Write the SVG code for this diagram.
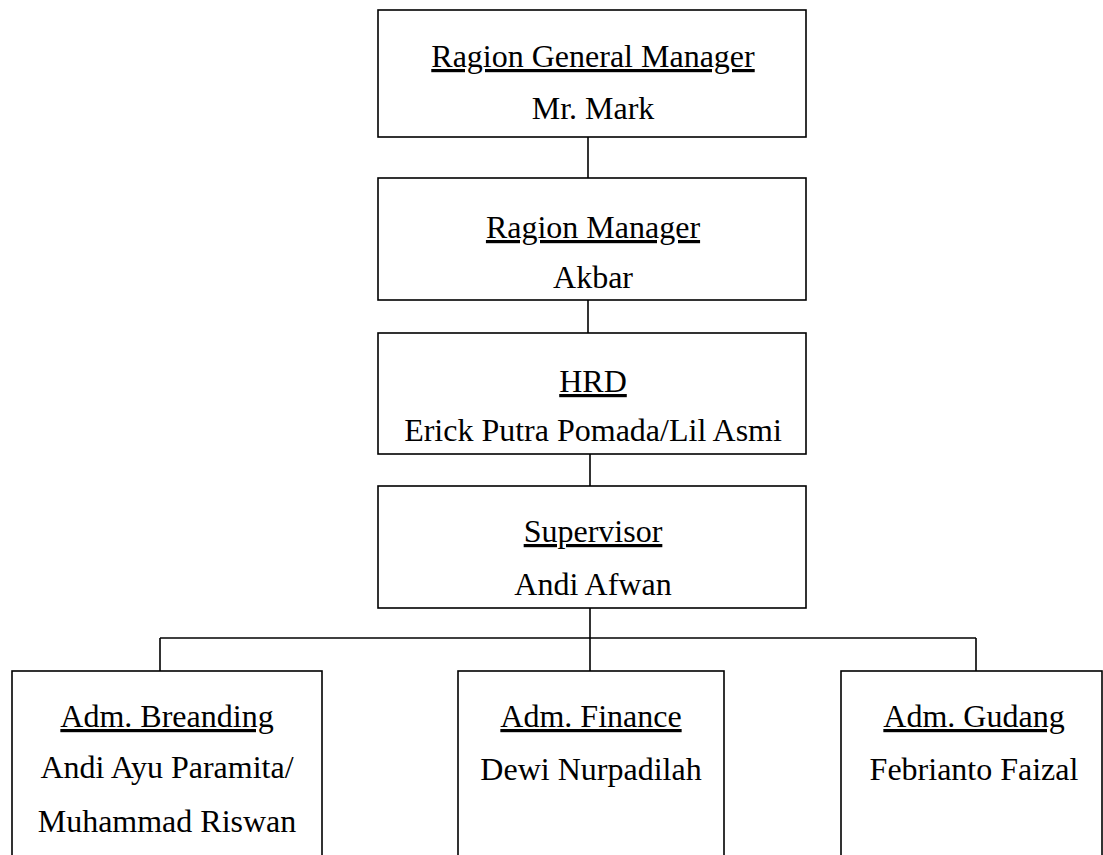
<svg xmlns="http://www.w3.org/2000/svg" width="1103" height="855" viewBox="0 0 1103 855">
<style>
rect.box{fill:#fff;stroke:#000;stroke-width:1.6}
.conn line{stroke:#000;stroke-width:1.6}
text{font-family:"Liberation Serif","Times New Roman",serif;font-size:32px;fill:#000;text-anchor:middle}
.t{text-decoration:underline}
</style>
<rect width="1103" height="855" fill="#fff"/>
<g class="conn">
<line x1="588" y1="137" x2="588" y2="178"/>
<line x1="588" y1="300" x2="588" y2="333"/>
<line x1="590" y1="454" x2="590" y2="486"/>
<line x1="590" y1="608" x2="590" y2="671"/>
<line x1="160" y1="638" x2="976" y2="638"/>
<line x1="160" y1="638" x2="160" y2="671"/>
<line x1="976" y1="638" x2="976" y2="671"/>
</g>
<g id="gm">
<rect class="box" x="378" y="10" width="428" height="127"/>
<text class="t" x="593" y="67">Ragion General Manager</text>
<text x="593" y="119">Mr. Mark</text>
</g>
<g id="rm">
<rect class="box" x="378" y="178" width="428" height="122"/>
<text class="t" x="593" y="238">Ragion Manager</text>
<text x="593" y="288">Akbar</text>
</g>
<g id="hrd">
<rect class="box" x="378" y="333" width="428" height="121"/>
<text class="t" x="593" y="392">HRD</text>
<text x="593" y="441">Erick Putra Pomada/Lil Asmi</text>
</g>
<g id="spv">
<rect class="box" x="378" y="486" width="428" height="122"/>
<text class="t" x="593" y="542">Supervisor</text>
<text x="593" y="595">Andi Afwan</text>
</g>
<g id="brand">
<rect class="box" x="12" y="671" width="310" height="200"/>
<text class="t" x="167" y="727">Adm. Breanding</text>
<text x="167" y="778">Andi Ayu Paramita/</text>
<text x="167" y="832">Muhammad Riswan</text>
</g>
<g id="fin">
<rect class="box" x="458" y="671" width="266" height="200"/>
<text class="t" x="591" y="727">Adm. Finance</text>
<text x="591" y="780">Dewi Nurpadilah</text>
</g>
<g id="gud">
<rect class="box" x="841" y="671" width="261" height="200"/>
<text class="t" x="974" y="727">Adm. Gudang</text>
<text x="974" y="780">Febrianto Faizal</text>
</g>
</svg>
